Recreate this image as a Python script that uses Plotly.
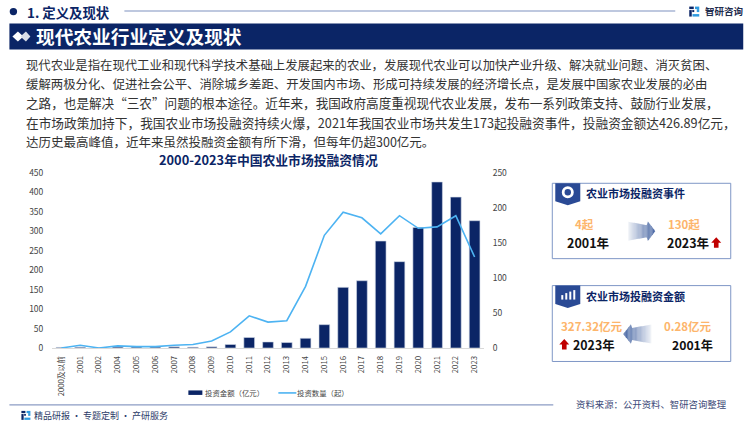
import plotly.graph_objects as go

W = 750
H = 422
NAVY = "#0b2566"
ORANGE = "#fdb56b"

# plot area in picture pixels
PLOT_L = 51.6
PLOT_R = 483.7
PLOT_T = 172.7
PLOT_B = 348

years = ["2000及以前", "2001", "2002", "2004", "2005", "2006", "2007", "2008", "2009", "2010", "2011", "2012",
         "2013", "2014", "2015", "2016", "2017", "2018", "2019", "2020", "2021", "2022", "2023"]
amount = [1.5, 2, 0.3, 2.5, 2.5, 2.5, 3, 2, 3, 9, 27, 15.5, 14, 25, 60, 156, 173, 275, 222, 310, 426.89, 388, 327.32]
count = [0, 4, 0, 3, 2, 2, 4, 5, 10, 23, 46, 37, 39, 88, 161, 194, 186, 163, 189, 171, 173, 189, 130]

left_ticks = [0, 50, 100, 150, 200, 250, 300, 350, 400, 450]
right_ticks = [0, 50, 100, 150, 200, 250]

body_lines = [
    "现代农业是指在现代工业和现代科学技术基础上发展起来的农业，发展现代农业可以加快产业升级、解决就业问题、消灭贫困、",
    "缓解两极分化、促进社会公平、消除城乡差距、开发国内市场、形成可持续发展的经济增长点，是发展中国家农业发展的必由",
    "之路，也是解决“三农”问题的根本途径。近年来，我国政府高度重视现代农业发展，发布一系列政策支持、鼓励行业发展，",
    "在市场政策加持下，我国农业市场投融资持续火爆，2021年我国农业市场共发生173起投融资事件，投融资金额达426.89亿元，",
    "达历史最高峰值，近年来虽然投融资金额有所下滑，但每年仍超300亿元。",
]
body_y = [65, 84, 102.5, 122, 141]
body_size = [12.35, 12.4, 12.6, 12.7, 12.5]


# paper coordinates count from the plot area, so convert from picture pixels
def px(x):
    return (x - PLOT_L) / (PLOT_R - PLOT_L)


def py(y):
    return (PLOT_B - y) / (PLOT_B - PLOT_T)


shapes = []
annotations = []


def text(x, y, s, size=12, color="#333333", bold=False, anchor="left"):
    if bold:
        s = "<b>" + s + "</b>"
    annotations.append(dict(x=px(x), y=py(y), xref="paper", yref="paper", text=s, showarrow=False,
                            xanchor=anchor, yanchor="middle", borderpad=0,
                            font=dict(size=size, color=color, family="Noto Sans CJK SC")))


def rect(x0, y0, x1, y1, fill=None, line=None, lw=1, opacity=1):
    shapes.append(dict(type="rect", xref="paper", yref="paper", x0=px(x0), x1=px(x1), y0=py(y0), y1=py(y1),
                       fillcolor=fill, opacity=opacity, line=dict(color=line, width=lw if line else 0),
                       layer="above"))


def poly(points, fill, opacity=1):
    path = "M " + " L ".join(f"{px(a):.5f},{py(b):.5f}" for a, b in points) + " Z"
    shapes.append(dict(type="path", xref="paper", yref="paper", path=path, fillcolor=fill, opacity=opacity,
                       line=dict(width=0), layer="above"))


def hline(x0, x1, y, color, lw=1):
    shapes.append(dict(type="line", xref="paper", yref="paper", x0=px(x0), x1=px(x1), y0=py(y), y1=py(y),
                       line=dict(color=color, width=lw), layer="above"))


def circle(cx, cy, r, fill):
    shapes.append(dict(type="circle", xref="paper", yref="paper", x0=px(cx - r), x1=px(cx + r), y0=py(cy - r),
                       y1=py(cy + r), fillcolor=fill, line=dict(width=0), layer="above"))


def half_at(t, half):
    head = 0.72
    if t < head:
        return half * 0.62 + (1 - t / head) * half * 0.38
    return half * 1.05 * (1 - t) / (1 - head)


def big_arrow(x_tail, x_tip, cy, half=9.5):
    # gradient arrow, cut in thin slices because shapes have no gradient fill
    n = 22
    length = x_tip - x_tail
    for i in range(n):
        a = i / n
        b = (i + 1) / n
        xa = x_tail + a * length
        xb = x_tail + b * length
        poly([(xa, cy - half_at(a, half)), (xb, cy - half_at(b, half)),
              (xb, cy + half_at(b, half)), (xa, cy + half_at(a, half))],
             "#3f5f9f", opacity=0.05 + 0.9 * b)


def red_arrow(x0, y0):
    poly([(x0 + 5, y0), (x0 + 10, y0 + 5.5), (x0 + 7.3, y0 + 5.5), (x0 + 7.3, y0 + 10.5), (x0 + 2.7, y0 + 10.5),
          (x0 + 2.7, y0 + 5.5), (x0, y0 + 5.5)], "#c00000")


def logo(x, y, size):
    u = size / 4
    rect(x, y, x + 2 * u - 0.5, y + u, fill=NAVY)
    rect(x, y + 1.4 * u, x + u, y + 4 * u, fill=NAVY)
    rect(x + u + 0.5, y + 1.4 * u, x + 2 * u, y + 2.2 * u, fill=NAVY)
    rect(x + 2.3 * u, y, x + 4 * u, y + u, fill="#2f9be0")
    rect(x + 3 * u, y + u, x + 4 * u, y + 2.2 * u, fill="#2f9be0")
    rect(x + 1.3 * u, y + 3 * u, x + 4 * u, y + 4 * u, fill="#2f9be0")


# header
circle(13, 11, 3.7, NAVY)
text(26, 11.5, "1. 定义及现状", size=13.4, color=NAVY, bold=True)
hline(124, 675, 10.5, "#a9b6d4", 1.5)
logo(689, 6, 10)
text(704, 10, "智研咨询", size=9.5, color="#1f2c4d", bold=True)
rect(9, 23, 743, 49, fill=NAVY)
poly([(12, 36), (17.5, 31), (23, 36), (17.5, 41)], "#ffffff")
poly([(20, 36), (25.5, 31), (30, 36), (25.5, 41)], "#d9dee9")
text(35, 35, "现代农业行业定义及现状", size=18.7, color="#ffffff", bold=True)

for line_text, y, s in zip(body_lines, body_y, body_size):
    text(25, y, line_text, size=s, color="#333333")

text(268.5, 159.5, "2000-2023年中国农业市场投融资情况", size=12.8, color=NAVY, bold=True, anchor="center")

# card 1
rect(552, 183, 730.5, 258.5, line="#7f97c6", lw=1)
poly([(555, 183), (580, 183), (580, 201), (567.5, 205), (555, 201)], "#2a4a95")
circle(567.5, 192, 6, "#ffffff")
circle(567.5, 192, 3.2, "#2a4a95")
text(585, 193, "农业市场投融资事件", size=11, color=NAVY, bold=True)
text(574, 223.5, "4起", size=11.5, color=ORANGE, bold=True)
text(566, 242, "2001年", size=12.5, color="#111111", bold=True)
big_arrow(628, 655, 231)
text(666.5, 223.5, "130起", size=11.5, color=ORANGE, bold=True)
text(666, 242, "2023年", size=12.5, color="#111111", bold=True)
red_arrow(711, 237)

# card 2
rect(552, 285.5, 730.5, 361.5, line="#7f97c6", lw=1)
poly([(555, 285.5), (580, 285.5), (580, 304), (567.5, 308), (555, 304)], "#2a4a95")
rect(561, 295, 563, 299.5, fill="#ffffff")
rect(565, 293, 567, 299.5, fill="#ffffff")
rect(569, 291.5, 571, 299.5, fill="#ffffff")
rect(573, 290, 575, 299.5, fill="#ffffff")
text(585, 296, "农业市场投融资金额", size=11, color=NAVY, bold=True)
text(560, 326, "327.32亿元", size=11.6, color=ORANGE, bold=True)
text(663, 326, "0.28亿元", size=11.5, color=ORANGE, bold=True)
big_arrow(651, 623, 334)
red_arrow(559, 339)
text(572, 345, "2023年", size=12.4, color="#111111", bold=True)
text(671, 345, "2001年", size=12.2, color="#111111", bold=True)

# footer
hline(9, 553, 405, "#8c9cc4", 1.2)
logo(21, 411, 9)
text(33, 415.5, "精品研报 · 专题定制 · 产研服务", size=9, color="#2b3a67")
text(575, 404, "资料来源：公开资料、智研咨询整理", size=9.4, color="#3c4a78")

# legend drawn by hand, plotly's own swatches are a different shape
rect(188, 390.5, 202, 395, fill=NAVY)
text(204, 393, "投资金额（亿元）", size=7.4, color="#444444")
hline(278, 296, 393, "#4db3f2", 1.6)
text(296, 393, "投资数量（起）", size=7.4, color="#444444")

fig = go.Figure()
fig.add_trace(go.Bar(x=years, y=amount, name="投资金额（亿元）", width=0.57,
                     marker=dict(color=NAVY, line=dict(color="#cfd6e6", width=0.6))))
fig.add_trace(go.Scatter(x=years, y=count, name="投资数量（起）", mode="lines", yaxis="y2",
                         line=dict(color="#4db3f2", width=1.6)))

no_tick = "rgba(0,0,0,0)"
fig.update_layout(
    width=W, height=H,
    margin=dict(l=PLOT_L, r=W - PLOT_R, t=PLOT_T, b=H - PLOT_B, pad=0),
    paper_bgcolor="#ffffff", plot_bgcolor="#ffffff",
    font=dict(family="Noto Sans CJK SC", color="#444444", size=8.5),
    shapes=shapes, annotations=annotations,
    showlegend=False,
    xaxis=dict(type="category", tickangle=-90, tickfont=dict(size=7.7, color="#444444"), showgrid=False,
               showline=True, linecolor="#d9d9d9", linewidth=1,
               ticks="outside", ticklen=4, tickcolor=no_tick),
    yaxis=dict(range=[0, 450], tickvals=left_ticks, showgrid=False, zeroline=False, tickfont=dict(size=8.5),
               ticks="outside", ticklen=6, tickcolor=no_tick),
    yaxis2=dict(range=[0, 250], tickvals=right_ticks, overlaying="y", side="right", showgrid=False, zeroline=False,
                tickfont=dict(size=8.5), ticks="outside", ticklen=6, tickcolor=no_tick),
)

fig.write_html("out.html", config={"displayModeBar": False},
               post_script="document.body.style.margin='0';document.body.style.overflow='hidden';")
